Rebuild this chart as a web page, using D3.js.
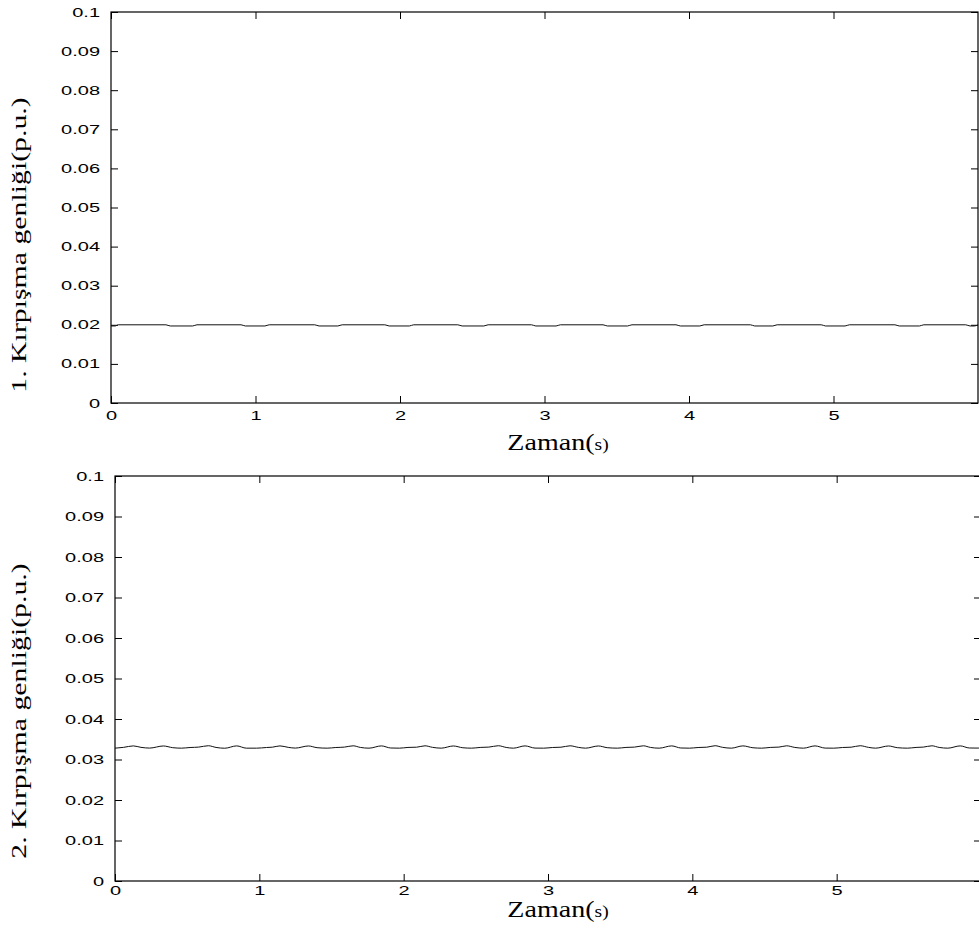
<!DOCTYPE html>
<html>
<head>
<meta charset="utf-8">
<script src="https://cdn.jsdelivr.net/npm/d3@7"></script>
<style>
  html, body { margin: 0; padding: 0; background: #fff; }
  svg { display: block; }
</style>
</head>
<body>
<svg id="chart" width="979" height="936"></svg>
<script>
// ---------------- DATA ----------------
const xTicks = [0, 1, 2, 3, 4, 5];
const xTickLabels = ["0", "1", "2", "3", "4", "5"];
const yTicks = [0, 0.01, 0.02, 0.03, 0.04, 0.05, 0.06, 0.07, 0.08, 0.09, 0.1];
const yTickLabels = ["0", "0.01", "0.02", "0.03", "0.04", "0.05", "0.06", "0.07", "0.08", "0.09", "0.1"];

const panel1Label = "1. Kırpışma genliği(p.u.)";
const panel2Label = "2. Kırpışma genliği(p.u.)";
const xLabelMain = "Zaman(";
const xLabelSmall = "s)";

// 1st flicker amplitude (time s, value p.u.)
const flicker1Time = [
  0.00, 0.03, 0.05,
  0.38, 0.41, 0.565, 0.595,
  0.90, 0.93, 1.065, 1.095,
  1.41, 1.44, 1.57, 1.60,
  1.895, 1.925, 2.065, 2.095,
  2.40, 2.43, 2.58, 2.61,
  2.91, 2.94, 3.08, 3.11,
  3.405, 3.435, 3.575, 3.605,
  3.91, 3.94, 4.075, 4.105,
  4.425, 4.455, 4.58, 4.61,
  4.915, 4.945, 5.08, 5.11,
  5.425, 5.455, 5.595, 5.625,
  5.915, 5.945, 5.975, 6.00
];
const flicker1Value = [
  0.0197, 0.0197, 0.0200,
  0.0200, 0.0197, 0.0197, 0.0200,
  0.0200, 0.0197, 0.0197, 0.0200,
  0.0200, 0.0197, 0.0197, 0.0200,
  0.0200, 0.0197, 0.0197, 0.0200,
  0.0200, 0.0197, 0.0197, 0.0200,
  0.0200, 0.0197, 0.0197, 0.0200,
  0.0200, 0.0197, 0.0197, 0.0200,
  0.0200, 0.0197, 0.0197, 0.0200,
  0.0200, 0.0197, 0.0197, 0.0200,
  0.0200, 0.0197, 0.0197, 0.0200,
  0.0200, 0.0197, 0.0197, 0.0200,
  0.0200, 0.0197, 0.0197, 0.0200
];

// 2nd flicker amplitude (time s, value p.u.)
const flicker2Time = [
  0.00, 0.06, 0.127, 0.18, 0.24, 0.335, 0.40, 0.46, 0.52, 0.58,
  0.647, 0.70, 0.76, 0.843, 0.91, 0.98, 1.05, 1.09,
  1.143, 1.20, 1.25, 1.34, 1.40, 1.47, 1.53, 1.59,
  1.65, 1.70, 1.76, 1.846, 1.91, 1.97, 2.03, 2.09,
  2.148, 2.20, 2.26, 2.344, 2.41, 2.47, 2.53, 2.59,
  2.656, 2.71, 2.76, 2.841, 2.91, 2.97, 3.03, 3.09,
  3.153, 3.21, 3.26, 3.349, 3.41, 3.48, 3.54, 3.60,
  3.661, 3.71, 3.77, 3.857, 3.92, 3.98, 4.04, 4.10,
  4.158, 4.21, 4.27, 4.35, 4.42, 4.48, 4.54, 4.60,
  4.654, 4.71, 4.77, 4.85, 4.92, 4.98, 5.04, 5.10,
  5.163, 5.22, 5.27, 5.359, 5.42, 5.49, 5.55, 5.60,
  5.66, 5.71, 5.77, 5.856, 5.92, 5.98, 6.00
];
const flicker2Value = [
  0.03280, 0.03300, 0.03336, 0.03300, 0.03282, 0.03334, 0.03292, 0.03280, 0.03296, 0.03306,
  0.03340, 0.03298, 0.03278, 0.03336, 0.03280, 0.03280, 0.03296, 0.03304,
  0.03336, 0.03300, 0.03282, 0.03334, 0.03292, 0.03280, 0.03296, 0.03306,
  0.03338, 0.03298, 0.03280, 0.03336, 0.03284, 0.03280, 0.03298, 0.03304,
  0.03338, 0.03300, 0.03280, 0.03334, 0.03290, 0.03280, 0.03298, 0.03306,
  0.03340, 0.03298, 0.03280, 0.03336, 0.03282, 0.03280, 0.03296, 0.03304,
  0.03338, 0.03300, 0.03280, 0.03334, 0.03292, 0.03280, 0.03298, 0.03306,
  0.03338, 0.03298, 0.03280, 0.03336, 0.03284, 0.03280, 0.03296, 0.03304,
  0.03340, 0.03300, 0.03280, 0.03336, 0.03290, 0.03280, 0.03298, 0.03306,
  0.03338, 0.03298, 0.03280, 0.03336, 0.03282, 0.03280, 0.03296, 0.03304,
  0.03340, 0.03300, 0.03280, 0.03334, 0.03292, 0.03280, 0.03298, 0.03306,
  0.03338, 0.03298, 0.03280, 0.03336, 0.03284, 0.03282, 0.03290
];

// ---------------- DRAW ----------------
const svg = d3.select("#chart");
const tickFont = "'Liberation Sans', Arial, Helvetica, sans-serif";
const serif = "'Liberation Serif', 'Times New Roman', serif";
const stretch = 1.6;

function drawPanel(box, times, values, yLabel, xLabelY, yLabelCenterY, xTickPad) {
  const x = d3.scaleLinear().domain([0, 6]).range([box.left, box.right]);
  const y = d3.scaleLinear().domain([0, 0.1]).range([box.bottom, box.top]);
  const g = svg.append("g");

  const gx = g.append("g")
    .attr("transform", `translate(0,${box.bottom})`)
    .call(d3.axisBottom(x).tickValues(xTicks)
      .tickFormat((d, i) => xTickLabels[i]).tickSizeInner(-7).tickSizeOuter(0).tickPadding(xTickPad));
  const gy = g.append("g")
    .attr("transform", `translate(${box.left},0)`)
    .call(d3.axisLeft(y).tickValues(yTicks)
      .tickFormat((d, i) => yTickLabels[i]).tickSizeInner(-7).tickSizeOuter(0).tickPadding(11));
  const gt = g.append("g")
    .attr("transform", `translate(0,${box.top})`)
    .call(d3.axisTop(x).tickValues(xTicks).tickFormat("").tickSizeInner(-7).tickSizeOuter(0));
  const gr = g.append("g")
    .attr("transform", `translate(${box.right},0)`)
    .call(d3.axisRight(y).tickValues(yTicks).tickFormat("").tickSizeInner(-7).tickSizeOuter(0));

  [gx, gy, gt, gr].forEach(a => {
    a.select(".domain").remove();
    a.selectAll(".tick line").attr("stroke", "#000").attr("stroke-width", 1);
  });

  gx.selectAll(".tick text")
    .attr("font-family", tickFont).attr("font-size", 12.5).attr("fill", "#000")
    .attr("transform", `scale(${stretch},1)`);
  gy.selectAll(".tick text")
    .attr("font-family", tickFont).attr("font-size", 12.5).attr("fill", "#000")
    .attr("x", 0)
    .attr("transform", `translate(-11,0) scale(${stretch},1)`);

  g.append("rect")
    .attr("x", box.left).attr("y", box.top)
    .attr("width", box.right - box.left).attr("height", box.bottom - box.top)
    .attr("fill", "none").attr("stroke", "#000").attr("stroke-width", 1.2);

  const line = d3.line()
    .x((d, i) => x(times[i]))
    .y(d => y(d))
    .curve(d3.curveMonotoneX);
  g.append("path")
    .datum(values)
    .attr("d", line)
    .attr("fill", "none")
    .attr("stroke", "#111")
    .attr("stroke-width", 1);

  const xt = g.append("text")
    .attr("x", 0).attr("y", 0)
    .attr("transform", `translate(558,${xLabelY}) scale(1.22,1)`)
    .attr("text-anchor", "middle")
    .attr("font-family", serif)
    .attr("font-size", 23)
    .attr("fill", "#000");
  xt.append("tspan").text(xLabelMain);
  xt.append("tspan").attr("font-size", 16).text(xLabelSmall);

  g.append("text")
    .attr("transform", `translate(26,${yLabelCenterY}) rotate(-90) scale(1.42,1)`)
    .attr("text-anchor", "middle")
    .attr("font-family", serif)
    .attr("font-size", 21)
    .attr("fill", "#000")
    .text(yLabel);
}

drawPanel({ left: 111, right: 978, top: 12, bottom: 403 },
  flicker1Time, flicker1Value, panel1Label, 450, 245, 8);
drawPanel({ left: 115, right: 981, top: 476, bottom: 881 },
  flicker2Time, flicker2Value, panel2Label, 917, 711, 5);
</script>
</body>
</html>
